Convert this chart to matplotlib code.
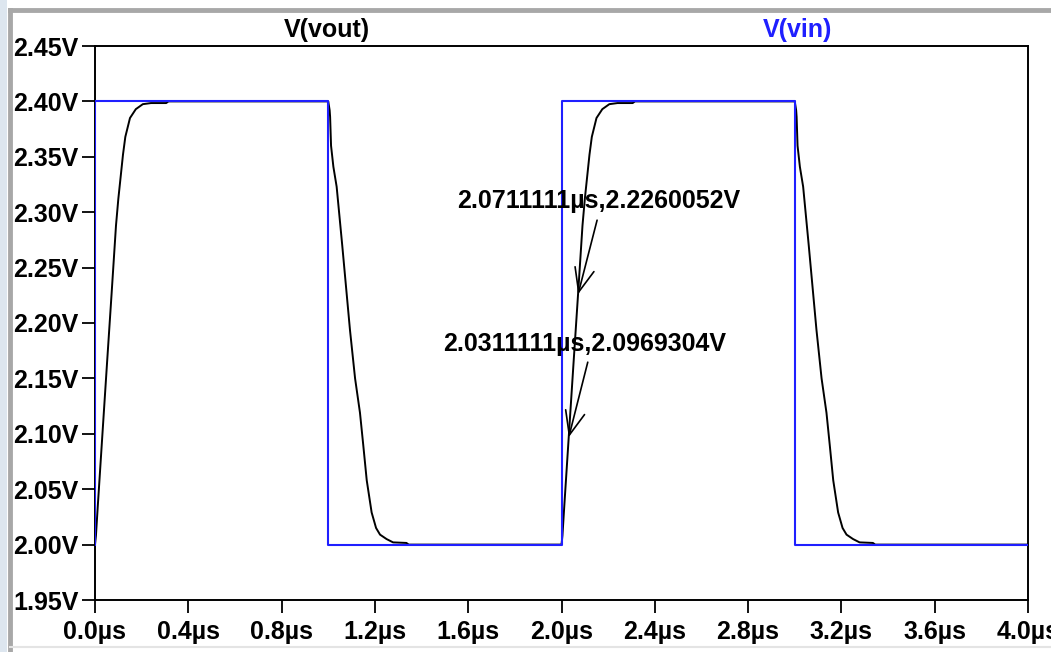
import matplotlib
matplotlib.use("Agg")
import matplotlib.pyplot as plt
from matplotlib.lines import Line2D
from matplotlib.patches import Rectangle

# ---------------- data ----------------
vin_t = [0.0, 0.0, 1.0, 1.0, 2.0, 2.0, 3.0, 3.0, 4.0]
vin_v = [2.000, 2.400, 2.400, 2.000, 2.000, 2.400, 2.400, 2.000, 2.000]

vout_t = [0.000, 0.004, 0.012, 0.031, 0.051, 0.071, 0.090, 0.100, 0.110, 0.120,
          0.130, 0.150, 0.175, 0.205, 0.240, 0.305, 0.315,
          1.000, 1.006, 1.008, 1.012, 1.022, 1.036, 1.060, 1.093, 1.115, 1.136,
          1.150, 1.165, 1.186, 1.205, 1.222, 1.250, 1.278, 1.335, 1.345,
          2.000, 2.004, 2.012, 2.031, 2.051, 2.071, 2.090, 2.100, 2.110, 2.120,
          2.130, 2.150, 2.175, 2.205, 2.240, 2.305, 2.315,
          3.000, 3.006, 3.008, 3.012, 3.022, 3.036, 3.060, 3.093, 3.115, 3.136,
          3.150, 3.165, 3.186, 3.205, 3.222, 3.250, 3.278, 3.335, 3.345, 4.000]
vout_v = [2.000, 2.008, 2.035, 2.097, 2.162, 2.226, 2.288, 2.312, 2.332, 2.352,
          2.368, 2.385, 2.393, 2.3975, 2.3985, 2.3985, 2.400,
          2.400, 2.392, 2.386, 2.360, 2.341, 2.323, 2.270, 2.194, 2.150, 2.119,
          2.090, 2.058, 2.029, 2.015, 2.009, 2.005, 2.002, 2.0015, 2.000,
          2.000, 2.008, 2.035, 2.097, 2.162, 2.226, 2.288, 2.312, 2.332, 2.352,
          2.368, 2.385, 2.393, 2.3975, 2.3985, 2.3985, 2.400,
          2.400, 2.392, 2.386, 2.360, 2.341, 2.323, 2.270, 2.194, 2.150, 2.119,
          2.090, 2.058, 2.029, 2.015, 2.009, 2.005, 2.002, 2.0015, 2.000, 2.000]

x_ticks = [0.0, 0.4, 0.8, 1.2, 1.6, 2.0, 2.4, 2.8, 3.2, 3.6, 4.0]
x_labels = ["0.0µs", "0.4µs", "0.8µs", "1.2µs", "1.6µs", "2.0µs",
            "2.4µs", "2.8µs", "3.2µs", "3.6µs", "4.0µs"]
y_ticks = [1.95, 2.00, 2.05, 2.10, 2.15, 2.20, 2.25, 2.30, 2.35, 2.40, 2.45]
y_labels = ["1.95V", "2.00V", "2.05V", "2.10V", "2.15V", "2.20V",
            "2.25V", "2.30V", "2.35V", "2.40V", "2.45V"]

cursor_t = [2.0711111, 2.0311111]
cursor_v = [2.2260052, 2.0969304]
cursor_labels = ["2.0711111µs,2.2260052V", "2.0311111µs,2.0969304V"]

# ---------------- figure ----------------
W, H = 1051, 652
FS = 18
plt.rcParams['font.family'] = ['Liberation Sans', 'DejaVu Sans']
fig = plt.figure(figsize=(W / 100, H / 100), dpi=100)
fig.patch.set_facecolor('white')

# window border (light strip + gray lines)
fig.patches.append(Rectangle((0, 0), 7 / W, 1, transform=fig.transFigure,
                             facecolor='#dde6ef', edgecolor='none', zorder=0))
fig.lines.append(Line2D([9.5 / W, 9.5 / W], [0.0, 1 - 9.5 / H], transform=fig.transFigure,
                        color='#a8a8a8', lw=3.5))
fig.lines.append(Line2D([9.5 / W, 1.0], [1 - 9.5 / H, 1 - 9.5 / H], transform=fig.transFigure,
                        color='#a8a8a8', lw=3.5))
fig.lines.append(Line2D([9.5 / W, 1.0], [5 / H, 5 / H], transform=fig.transFigure,
                        color='#e4e4e4', lw=1.5))

left, right, top, bottom = 95, 1028, 46, 600
ax = fig.add_axes([left / W, 1 - bottom / H, (right - left) / W, (bottom - top) / H])

ax.plot(vout_t, vout_v, color='black', lw=1.4, zorder=2)
ax.plot(vin_t, vin_v, color='#1f1fff', lw=1.5, zorder=3)

ax.set_xlim(0.0, 4.0)
ax.set_ylim(1.95, 2.45)
ax.set_xticks(x_ticks)
ax.set_xticklabels(x_labels)
ax.set_yticks(y_ticks)
ax.set_yticklabels(y_labels)
ax.tick_params(axis='both', direction='out', length=9.5, width=1.3, color='black',
               labelsize=FS, pad=2.5)
ax.tick_params(axis='x', pad=5)
for lab in ax.get_xticklabels() + ax.get_yticklabels():
    lab.set_fontweight('bold')
for sp in ax.spines.values():
    sp.set_color('black')
    sp.set_linewidth(1.4)

# titles
fig.text(327 / W, 1 - 30 / H, "V(vout)", ha='center', va='center', fontsize=FS,
         fontweight='bold', color='black')
fig.text(798 / W, 1 - 30 / H, "V(vin)", ha='center', va='center', fontsize=FS,
         fontweight='bold', color='#1f1fff')

# cursor annotations
text_pos_px = [(599, 201), (585, 344)]
arrow_off_px = [(19, 74), (19, 75)]
for (tt, vv, lab, (px, py), (ox, oy)) in zip(cursor_t, cursor_v, cursor_labels,
                                             text_pos_px, arrow_off_px):
    fig.text(px / W, 1 - py / H, lab, ha='center', va='center', fontsize=FS,
             fontweight='bold', color='black')
    ax.annotate('', xy=(tt, vv), xytext=(ox * 0.72, oy * 0.72),
                textcoords='offset points',
                arrowprops=dict(arrowstyle='->,head_length=17,head_width=7',
                                mutation_scale=1, color='black', lw=1.2,
                                shrinkA=0, shrinkB=0))

fig.savefig('out.png', dpi=100)
